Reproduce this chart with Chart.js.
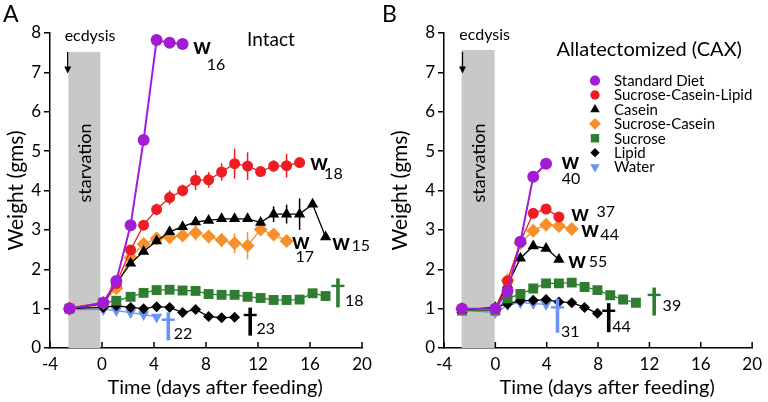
<!DOCTYPE html>
<html>
<head>
<meta charset="utf-8">
<script src="https://cdn.jsdelivr.net/npm/chart.js@4.4.1/dist/chart.umd.min.js"></script>
<style>
  html, body { margin: 0; padding: 0; background: #fff; }
  #wrap { position: relative; width: 768px; height: 402px; }
  .panel { position: absolute; top: 0; width: 384px; height: 402px; }
  #pa { left: 0; }
  #pb { left: 384px; }
</style>
</head>
<body>
<div id="wrap">
  <div class="panel" id="pa"><canvas id="chartA"></canvas></div>
  <div class="panel" id="pb"><canvas id="chartB"></canvas></div>
</div>
<script>
// days after feeding (first point = ecdysis)
const DAYS_A = [-2.5, 0.1, 1.1, 2.2, 3.2, 4.2, 5.2, 6.2, 7.2, 8.2, 9.2, 10.2, 11.2, 12.2, 13.2, 14.2, 15.2, 16.2, 17.2];
const DAYS_B = [-2.6, 0, 0.95, 1.95, 2.95, 3.95, 4.95, 5.95, 6.95, 7.95, 8.95, 9.95, 10.95];

const LABELS = ["Standard Diet", "Sucrose-Casein-Lipid", "Casein", "Sucrose-Casein", "Sucrose", "Lipid", "Water"];

// panel A, intact
const A_STANDARD = [1.0, 1.15, 1.7, 3.12, 5.28, 7.82, 7.75, 7.72];
const A_SCL = [1.02, 1.15, 1.64, 2.49, 3.12, 3.52, 3.82, 4.0, 4.26, 4.27, 4.47, 4.68, 4.62, 4.48, 4.62, 4.63, 4.71];
const A_SCL_ERR = [0, 0.05, 0.08, 0.1, 0.12, 0.15, 0.18, 0.15, 0.25, 0.2, 0.22, 0.38, 0.35, 0.12, 0.15, 0.3, 0.1];
const A_CASEIN = [1.0, 1.12, 1.65, 2.15, 2.45, 2.72, 2.95, 3.08, 3.2, 3.24, 3.28, 3.28, 3.28, 3.19, 3.4, 3.4, 3.4, 3.65, 2.82];
const A_CASEIN_ERR = [0, 0, 0, 0, 0, 0, 0.1, 0.05, 0.05, 0.05, 0.05, 0.05, 0.05, 0.05, 0.2, 0.24, 0.4, 0, 0];
const A_SC = [1.0, 1.15, 1.52, 2.3, 2.64, 2.78, 2.81, 2.86, 2.93, 2.83, 2.74, 2.66, 2.6, 3.01, 2.88, 2.72];
const A_SC_ERR = [0, 0, 0.05, 0.08, 0.1, 0.12, 0.17, 0.12, 0.2, 0.15, 0.18, 0.25, 0.35, 0.08, 0.08, 0.05];
const A_SUCROSE = [1.0, 1.15, 1.2, 1.3, 1.4, 1.47, 1.48, 1.46, 1.45, 1.37, 1.35, 1.35, 1.3, 1.27, 1.22, 1.22, 1.23, 1.39, 1.32];
const A_SUCROSE_ERR = [0, 0, 0, 0, 0, 0, 0, 0, 0, 0, 0, 0, 0, 0, 0, 0, 0.1, 0.05, 0];
const A_LIPID = [1.0, 1.03, 1.07, 1.03, 1.0, 1.05, 1.03, 0.9, 0.98, 0.8, 0.77, 0.78];
const A_WATER = [0.97, 0.98, 0.95, 0.9, 0.85, 0.79];

// panel B, allatectomized
const B_STANDARD = [1.0, 1.0, 1.45, 2.7, 4.35, 4.68];
const B_SCL = [1.0, 1.0, 1.7, 2.7, 3.42, 3.53, 3.33];
const B_CASEIN = [0.97, 1.02, 1.6, 2.28, 2.59, 2.53, 2.25];
const B_SC = [1.0, 1.0, 1.72, 2.66, 2.98, 3.13, 3.1, 3.02];
const B_SUCROSE = [0.95, 0.95, 1.26, 1.37, 1.51, 1.64, 1.64, 1.66, 1.55, 1.47, 1.34, 1.23, 1.15];
const B_SUCROSE_ERR = [0, 0, 0, 0, 0, 0, 0, 0, 0, 0, 0, 0.08, 0];
const B_LIPID = [0.97, 1.03, 1.12, 1.2, 1.21, 1.23, 1.17, 1.15, 1.03, 0.88];
const B_WATER = [0.96, 0.9, 1.09, 1.15, 1.13, 1.11];

const COLORS = ["#a21cd6", "#ee1d23", "#000000", "#f7902a", "#2f7d31", "#000000", "#6b93f5"];
const STYLES = ["circle", "circle", "triangle", "rectRot", "rect", "rectRot", "triangle"];
const ROTATIONS = [0, 0, 0, 0, 0, 0, 180];
const RADII = [6, 5.5, 6.5, 7, 7, 5.5, 6.5];

const FONT = "Lato, 'Open Sans', sans-serif";
Chart.defaults.font.family = FONT;

function makeSets(days, series, errs) {
  return series.map((vals, i) => ({
    label: LABELS[i],
    data: vals.map((v, j) => ({ x: days[j], y: v })),
    err: errs[i],
    borderColor: COLORS[i],
    backgroundColor: COLORS[i],
    pointStyle: STYLES[i],
    pointRotation: ROTATIONS[i],
    pointRadius: RADII[i],
    pointHoverRadius: RADII[i],
    pointBorderWidth: 0,
    borderWidth: i === 0 ? 2 : 1.3,
    tension: 0,
  }));
}

const decor = {
  id: "decor",
  beforeDatasetsDraw(chart, args, o) {
    const { ctx, scales: { x, y } } = chart;
    const b = o.band;
    const x0 = x.getPixelForValue(b.from), x1 = x.getPixelForValue(b.to);
    const y0 = y.getPixelForValue(b.top), y1 = y.getPixelForValue(0);
    ctx.save();
    ctx.fillStyle = "#c8c8c8";
    ctx.fillRect(x0, y0, x1 - x0, y1 - y0);
    ctx.translate((x0 + x1) / 2 + 1, y.getPixelForValue(4.7));
    ctx.rotate(-Math.PI / 2);
    ctx.fillStyle = "#000";
    ctx.font = "18px " + FONT;
    ctx.textAlign = "center";
    ctx.textBaseline = "middle";
    ctx.fillText("starvation", 0, 0);
    ctx.restore();

    // error bars
    chart.data.datasets.forEach((ds) => {
      if (!ds.err) return;
      ctx.save();
      ctx.strokeStyle = ds.borderColor;
      ctx.lineWidth = 1.5;
      ds.data.forEach((p, j) => {
        const e = ds.err[j];
        if (!e) return;
        const px = x.getPixelForValue(p.x);
        ctx.beginPath();
        ctx.moveTo(px, y.getPixelForValue(p.y - e));
        ctx.lineTo(px, y.getPixelForValue(p.y + e));
        ctx.stroke();
      });
      ctx.restore();
    });
  },
  afterDraw(chart, args, o) {
    const { ctx, scales: { x, y } } = chart;
    ctx.save();
    // inward ticks on the time axis
    ctx.strokeStyle = "#000";
    ctx.lineWidth = 1.5;
    x.ticks.forEach((t) => {
      const px = x.getPixelForValue(t.value);
      ctx.beginPath();
      ctx.moveTo(px, y.bottom);
      ctx.lineTo(px, y.bottom - 6);
      ctx.stroke();
    });

    // ecdysis arrow
    const ax = x.getPixelForValue(o.arrowAt);
    const ay0 = y.getPixelForValue(7.52), ay1 = y.getPixelForValue(7.0);
    ctx.lineWidth = 1.3;
    ctx.beginPath();
    ctx.moveTo(ax, ay0);
    ctx.lineTo(ax, ay1 - 4);
    ctx.stroke();
    ctx.fillStyle = "#000";
    ctx.beginPath();
    ctx.moveTo(ax - 3.5, ay1 - 6);
    ctx.lineTo(ax + 3.5, ay1 - 6);
    ctx.lineTo(ax, ay1 + 1);
    ctx.closePath();
    ctx.fill();

    // death marks (daggers)
    o.daggers.forEach((d) => {
      const cx = x.getPixelForValue(d.t), cy = y.getPixelForValue(d.v);
      const top = cy - d.h / 2;
      ctx.fillStyle = d.color;
      ctx.fillRect(cx - 1.8, top, 3.6, d.h);
      ctx.fillRect(cx - 6.5, top + d.h * 0.22, 13, 2.4);
    });

    // text notes
    ctx.textAlign = "center";
    ctx.textBaseline = "middle";
    o.notes.forEach((n) => {
      ctx.font = n.font + " " + FONT;
      ctx.fillStyle = "#000";
      ctx.fillText(n.text, x.getPixelForValue(n.t), y.getPixelForValue(n.v));
    });

    // time axis title
    ctx.font = "20px " + FONT;
    ctx.fillStyle = "#000";
    ctx.fillText("Time (days after feeding)", x.getPixelForValue(8.7), 388);

    // panel letter
    ctx.font = "23px " + FONT;
    ctx.textAlign = "left";
    ctx.fillText(o.letter, o.letterX, 15);

    // legend
    if (o.legend) {
      const lx = x.getPixelForValue(o.legend.t);
      const ly = y.getPixelForValue(o.legend.v);
      ctx.font = "15px " + FONT;
      ctx.textAlign = "left";
      chart.data.datasets.forEach((ds, i) => {
        const yy = ly + i * 14.4;
        ctx.fillStyle = ds.backgroundColor;
        Chart.helpers.drawPoint(ctx, {
          pointStyle: ds.pointStyle,
          rotation: ds.pointRotation,
          radius: ds.pointRadius * 0.85,
          borderWidth: 0,
        }, lx, yy);
        ctx.fillStyle = "#000";
        ctx.fillText(ds.label, lx + 19, yy + 0.5);
      });
    }
    ctx.restore();
  },
};

function options(yWidth, rightPad, deco) {
  return {
    responsive: true,
    maintainAspectRatio: false,
    animation: false,
    layout: { padding: { top: 33, right: rightPad, left: 0, bottom: 0 } },
    plugins: { legend: { display: false }, tooltip: { enabled: false }, decor: deco },
    scales: {
      x: {
        type: "linear",
        min: -4,
        max: 20,
        afterFit: (s) => { s.height = 54; },
        ticks: { stepSize: 4, color: "#000", font: { size: 17 }, padding: 6, maxRotation: 0 },
        grid: { drawOnChartArea: false, drawTicks: false },
        border: { color: "#000", width: 1.5 },
      },
      y: {
        min: 0,
        max: 8,
        afterFit: (s) => { s.width = yWidth; },
        ticks: { stepSize: 1, color: "#000", font: { size: 17 }, padding: 3 },
        grid: { drawOnChartArea: false, tickLength: 6, color: "#000", lineWidth: 1.5 },
        border: { color: "#000", width: 1.5 },
        title: { display: true, text: "Weight (gms)", color: "#000", font: { size: 21 }, padding: { top: 4, bottom: 0 } },
      },
    },
  };
}

const NOTES_A = [
  { text: "Intact", t: 13.0, v: 7.83, font: "19px" },
  { text: "ecdysis", t: -0.92, v: 7.93, font: "16px" },
  { text: "w", t: 7.7, v: 7.65, font: "bold 22px" },
  { text: "16", t: 8.77, v: 7.19, font: "16px" },
  { text: "w", t: 16.7, v: 4.7, font: "bold 22px" },
  { text: "18", t: 17.8, v: 4.42, font: "16px" },
  { text: "w", t: 15.3, v: 2.69, font: "bold 22px" },
  { text: "17", t: 15.6, v: 2.31, font: "16px" },
  { text: "w", t: 18.4, v: 2.66, font: "bold 22px" },
  { text: "15", t: 19.9, v: 2.59, font: "16px" },
  { text: "22", t: 6.23, v: 0.35, font: "16px" },
  { text: "23", t: 12.6, v: 0.48, font: "16px" },
  { text: "18", t: 19.4, v: 1.19, font: "16px" },
];
const DAGGERS_A = [
  { t: 5.1, v: 0.55, h: 28, color: "#6b93f5" },
  { t: 11.4, v: 0.67, h: 28, color: "#000000" },
  { t: 18.15, v: 1.4, h: 29, color: "#2f7d31" },
];

const NOTES_B = [
  { text: "Allatectomized (CAX)", t: 11.98, v: 7.57, font: "20px" },
  { text: "ecdysis", t: -0.84, v: 7.96, font: "16px" },
  { text: "w", t: 5.84, v: 4.72, font: "bold 22px" },
  { text: "40", t: 5.9, v: 4.29, font: "16px" },
  { text: "w", t: 6.6, v: 3.4, font: "bold 22px" },
  { text: "37", t: 8.6, v: 3.45, font: "16px" },
  { text: "w", t: 7.37, v: 3.0, font: "bold 22px" },
  { text: "44", t: 8.9, v: 2.87, font: "16px" },
  { text: "w", t: 6.37, v: 2.21, font: "bold 22px" },
  { text: "55", t: 8.0, v: 2.18, font: "16px" },
  { text: "31", t: 5.84, v: 0.42, font: "16px" },
  { text: "44", t: 9.83, v: 0.55, font: "16px" },
  { text: "39", t: 13.75, v: 1.06, font: "16px" },
];
const DAGGERS_B = [
  { t: 4.84, v: 0.82, h: 34, color: "#6b93f5" },
  { t: 8.83, v: 0.77, h: 29, color: "#000000" },
  { t: 12.37, v: 1.18, h: 28, color: "#2f7d31" },
];

new Chart(document.getElementById("chartA"), {
  type: "line",
  data: {
    datasets: makeSets(
      DAYS_A,
      [A_STANDARD, A_SCL, A_CASEIN, A_SC, A_SUCROSE, A_LIPID, A_WATER],
      [null, A_SCL_ERR, A_CASEIN_ERR, A_SC_ERR, A_SUCROSE_ERR, null, null]
    ),
  },
  options: options(50, 22, {
    band: { from: -2.58, to: -0.13, top: 7.52 },
    arrowAt: -2.64,
    notes: NOTES_A,
    daggers: DAGGERS_A,
    letter: "A",
    letterX: 3,
  }),
  plugins: [decor],
});

new Chart(document.getElementById("chartB"), {
  type: "line",
  data: {
    datasets: makeSets(
      DAYS_B,
      [B_STANDARD, B_SCL, B_CASEIN, B_SC, B_SUCROSE, B_LIPID, B_WATER],
      [null, null, null, null, B_SUCROSE_ERR, null, null]
    ),
  },
  options: options(60, 11, {
    band: { from: -2.63, to: -0.05, top: 7.57 },
    arrowAt: -2.56,
    notes: NOTES_B,
    daggers: DAGGERS_B,
    letter: "B",
    letterX: -2,
    legend: { t: 7.76, v: 6.79 },
  }),
  plugins: [decor],
});
</script>
</body>
</html>
